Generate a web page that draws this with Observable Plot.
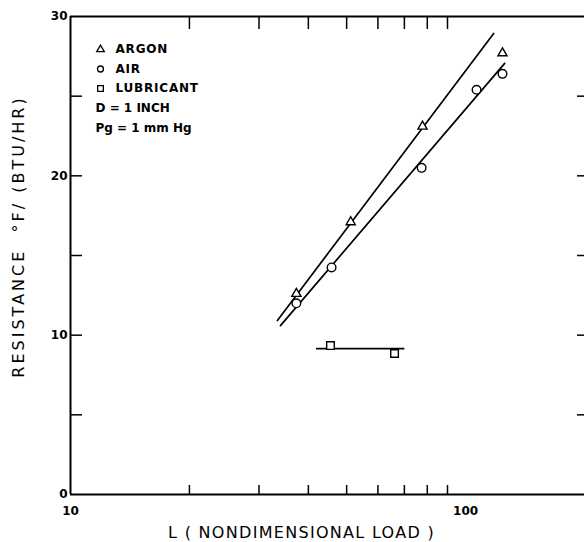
<!DOCTYPE html>
<html><head><meta charset="utf-8">
<script src="https://cdn.jsdelivr.net/npm/d3@7"></script>
<script src="https://cdn.jsdelivr.net/npm/@observablehq/plot@0.6"></script>
<style>
html,body{margin:0;padding:0;background:#fff}
svg{display:block}
</style>
</head><body><div id="chart"></div>
<script>
// ---- data ----
const series = ["ARGON", "AIR", "LUBRICANT"];
const argonL = [37.3, 51.2, 77.8, 124];
const argonR = [12.6, 17.1, 23.1, 27.7];
const airL = [37.3, 45.8, 77.4, 106.6, 124];
const airR = [12.0, 14.25, 20.5, 25.4, 26.4];
const lubL = [45.5, 66.1];
const lubR = [9.35, 8.85];
// fitted lines (end points)
const argonFitL = [33.4, 117.8], argonFitR = [10.92, 28.94];
const airFitL = [34.0, 125.6], airFitR = [10.6, 27.06];
const lubFitL = [42.0, 69.7], lubFitR = [9.15, 9.15];
// ticks & text
const xMinorTicks = [20, 30, 40, 50, 60, 70, 80, 90];
const xTickLabels = [10, 100];
const yTickLabels = [0, 10, 20, 30];
const yMinorTicks = [5, 10, 15, 20, 25];
const legendNotes = ["D = 1 INCH", "Pg = 1 mm Hg"];
const xTitle = "L ( NONDIMENSIONAL LOAD )";
const yTitle = "RESISTANCE  °F/ (BTU/HR)";

const pts = (s, L, R) => L.map((l, i) => ({series: s, L: l, R: R[i]}));
const argonPts = pts("ARGON", argonL, argonR);
const airPts = pts("AIR", airL, airR);
const lubPts = pts("LUBRICANT", lubL, lubR);
const fits = [...pts("ARGON", argonFitL, argonFitR), ...pts("AIR", airFitL, airFitR), ...pts("LUBRICANT", lubFitL, lubFitR)];

const symbolOf = {ARGON: "triangle", AIR: "circle", LUBRICANT: "square"};
const legendR = {ARGON: 2.8, AIR: 3, LUBRICANT: 3.2};

const W = 584, H = 542, mL = 70, mR = 0, mT = 16, mB = 48;
const innerW = W - mL - mR, innerH = H - mT - mB;

const legendMarks = [];
series.forEach((s, i) => {
  const dy = 33 + i * 19.5;
  legendMarks.push(Plot.dot([s], {frameAnchor: "top-left", dx: 30, dy, symbol: symbolOf[s], r: legendR[s], stroke: "black", strokeWidth: 1.3, fill: "white"}));
  legendMarks.push(Plot.text([s], {frameAnchor: "top-left", dx: 45, dy, text: d => d, textAnchor: "start", lineAnchor: "middle", fontSize: 12, fontWeight: "bold"}));
});
legendNotes.forEach((t, i) => {
  legendMarks.push(Plot.text([t], {frameAnchor: "top-left", dx: 25, dy: 92 + i * 20, text: d => d, textAnchor: "start", lineAnchor: "middle", fontSize: 12, fontWeight: "bold"}));
});

const chart = Plot.plot({
  width: W, height: H,
  marginLeft: mL, marginRight: mR, marginTop: mT, marginBottom: mB,
  style: {fontFamily: "DejaVu Sans", fontSize: "12px", color: "black", background: "white"},
  x: {type: "log", domain: [10, 200]},
  y: {domain: [0, 30]},
  marks: [
    Plot.ruleX([10], {stroke: "black", strokeWidth: 2}),
    Plot.ruleY([0, 30], {stroke: "black", strokeWidth: 2}),
    // inward tick marks
    Plot.tickX(xMinorTicks, {x: d => d, insetTop: innerH - 9, stroke: "black", strokeWidth: 1.5}),
    Plot.tickX(xMinorTicks, {x: d => d, insetBottom: innerH - 13, stroke: "black", strokeWidth: 1.5}),
    Plot.tickY(yMinorTicks, {y: d => d, insetRight: innerW - 12, stroke: "black", strokeWidth: 1.5}),
    Plot.tickY(yMinorTicks, {y: d => d, insetLeft: innerW - 7, stroke: "black", strokeWidth: 1.5}),
    Plot.axisX(xTickLabels, {anchor: "bottom", tickSize: 0, tickPadding: 12, tickFormat: d3.format("d"), label: null, fontSize: 12, fontWeight: "bold"}),
    Plot.axisY(yTickLabels, {anchor: "left", tickSize: 0, tickPadding: 3, tickFormat: d3.format("d"), label: null, fontSize: 12, fontWeight: "bold"}),
    Plot.text([xTitle], {frameAnchor: "bottom", dx: -26, dy: 38, text: d => d, fontSize: 16, lineAnchor: "middle"}),
    Plot.text([yTitle], {frameAnchor: "left", dx: -52, dy: -19, rotate: -90, textAnchor: "middle", lineAnchor: "middle", text: d => d, fontSize: 16}),
    Plot.line(fits, {x: "L", y: "R", z: "series", stroke: "black", strokeWidth: 1.7}),
    Plot.dot(argonPts, {x: "L", y: "R", symbol: "triangle", r: 3.4, stroke: "black", strokeWidth: 1.4, fill: "white"}),
    Plot.dot(airPts, {x: "L", y: "R", symbol: "circle", r: 4.3, stroke: "black", strokeWidth: 1.4, fill: "white"}),
    Plot.dot(lubPts, {x: "L", y: "R", symbol: "square", r: 4.3, stroke: "black", strokeWidth: 1.4, fill: "white"}),
    ...legendMarks
  ]
});
const spacing = new Map([[yTitle, "3px"], [xTitle, "1.3px"], ...series.map(s => [s, "0.8px"])]);
d3.select(chart).selectAll("text").each(function () {
  const ls = spacing.get(this.textContent);
  if (ls) this.style.letterSpacing = ls;
});
document.getElementById("chart").appendChild(chart);
</script>
</body></html>
